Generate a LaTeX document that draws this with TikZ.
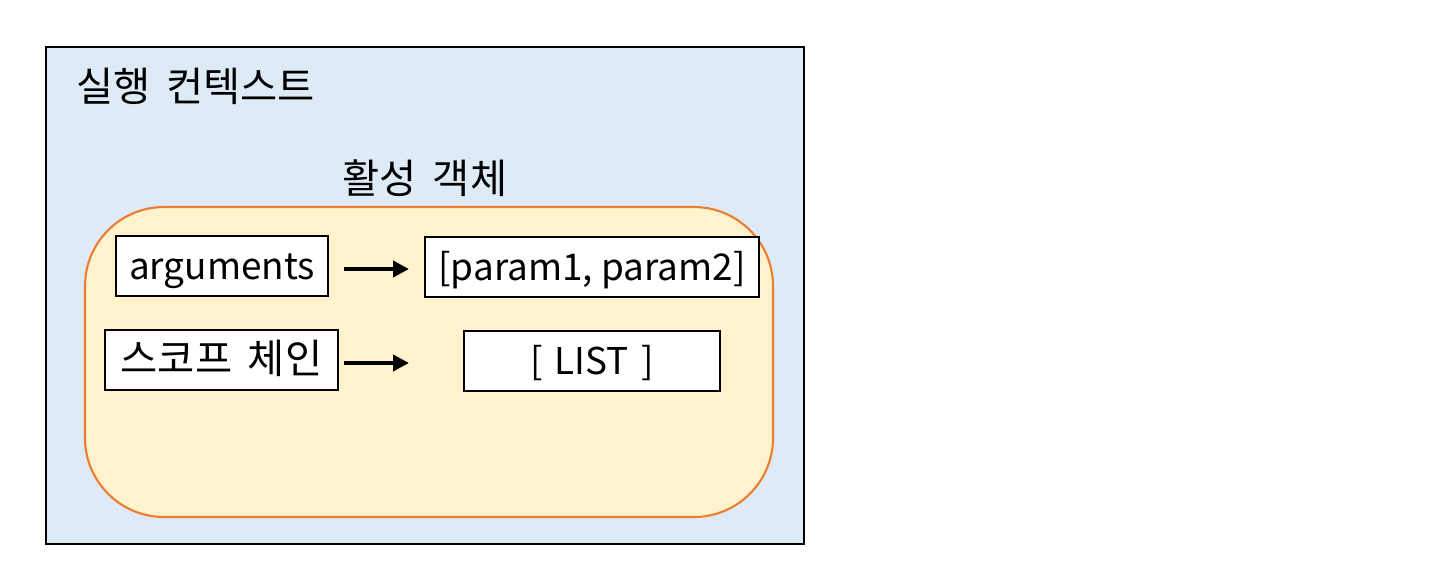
\documentclass[tikz,border=0pt]{standalone}
\usepackage{fontspec}
\setmainfont{Noto Sans CJK KR}
\usetikzlibrary{arrows.meta}
\definecolor{ctxblue}{HTML}{DEEBF7}
\definecolor{aoyellow}{HTML}{FFF2CC}
\definecolor{aoorange}{HTML}{ED7D31}
\newcommand{\lowtext}[1]{\raisebox{-7.6pt}[0pt][0pt]{#1}}
\tikzset{
	itembox/.style={draw=black,fill=white,line width=1.2pt,inner sep=0pt,font=\fontsize{21}{24}\selectfont},
	hangul/.style={font=\fontsize{23}{26}\selectfont},
	ptr/.style={line width=2.4pt,-{Triangle[length=9pt,width=9pt]}}
}

\begin{document}
\begin{tikzpicture}[x=0.02cm,y=-0.02cm]
	\useasboundingbox (0,0) rectangle (1448,578);
	\draw[fill=ctxblue,line width=1.2pt] (46,47) rectangle (804,544);
	\node[anchor=west,hangul] (ctx) at (70,86) {실행\, 컨텍스트};
	\node[hangul] (aotitle) at (425,178) {활성\, 객체};
	\draw[fill=aoyellow,draw=aoorange,line width=1.2pt,rounded corners=45] (85,207) rectangle (773,517);
	
	\node[itembox,minimum width=212*0.02cm,minimum height=60*0.02cm] (args) at (222,266) {\lowtext{arguments}};
	\node[itembox,minimum width=334*0.02cm,minimum height=60*0.02cm] (params) at (592,267) {\lowtext{[param1, param2]}};
	\node[itembox,hangul,minimum width=233*0.02cm,minimum height=60*0.02cm] (scope) at (221.5,360) {\lowtext{스코프\, 체인}};
	\node[itembox,minimum width=256*0.02cm,minimum height=60*0.02cm] (list) at (592,361) {\lowtext{[\,\,LIST\,\,]}};
	
	\coordinate (a1) at (344,269);
	\coordinate (a2) at (409,269);
	\coordinate (s1) at (344,363);
	\coordinate (s2) at (409,363);
	\draw[ptr] (a1) -- (a2);
	\draw[ptr] (s1) -- (s2);
\end{tikzpicture}
\end{document}
